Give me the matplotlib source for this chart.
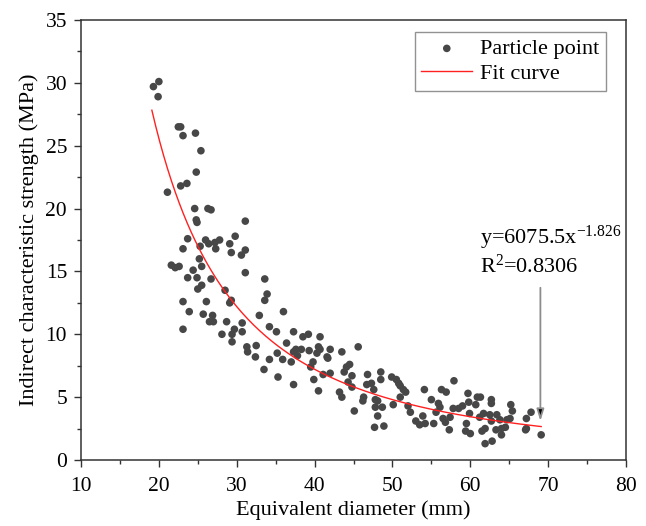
import numpy as np
import matplotlib
matplotlib.use("Agg")
import matplotlib.pyplot as plt

plt.rcParams['font.family'] = ['Liberation Serif', 'DejaVu Serif']
plt.rcParams['mathtext.fontset'] = 'custom'
plt.rcParams['mathtext.rm'] = 'Liberation Serif'
plt.rcParams['mathtext.it'] = 'Liberation Serif'

# particle points: equivalent diameter (mm), strength (MPa)
diam = [19.3, 20.0, 19.9, 22.5, 22.8, 23.1, 24.7, 25.4, 24.8, 22.8, 23.6, 21.1,
        24.6, 26.3, 26.7, 24.8, 24.9, 31.1, 29.8, 23.7, 23.1, 26.0, 26.4, 27.2,
        27.8, 27.3, 29.1, 29.3, 30.6, 31.1, 25.3, 25.2, 21.6, 22.1, 22.6, 24.4,
        25.5, 23.7, 24.9, 26.7, 25.5, 25.0, 31.1, 28.5, 23.1, 26.1, 29.1, 29.3,
        23.9, 25.7, 26.9, 26.5, 27.0, 28.7, 30.7, 32.9, 23.1, 28.1, 29.4, 29.7,
        30.7, 29.4, 31.3, 31.4, 32.4, 32.5, 33.6, 33.9, 33.6, 36.0, 34.2, 35.1,
        37.3, 34.2, 33.5, 35.2, 35.9, 36.4, 35.3, 37.0, 37.3, 37.6, 38.3, 37.8,
        37.3, 38.5, 39.2, 40.7, 39.3, 40.3, 40.5, 40.7, 39.8, 39.5, 39.9, 40.5,
        41.1, 42.0, 41.7, 42.0, 41.6, 43.5, 45.6, 43.2, 43.5, 43.8, 44.1, 44.5,
        44.8, 44.3, 44.8, 45.1, 46.3, 46.2, 46.8, 46.7, 47.3, 47.6, 48.5, 48.5,
        47.8, 48.1, 47.8, 48.7, 48.1, 47.7, 48.9, 50.1, 49.9, 50.5, 50.8, 51.0,
        51.4, 51.7, 51.0, 52.0, 52.3, 53.0, 53.5, 54.2, 55.3, 53.9, 54.1, 55.0,
        56.3, 56.9, 55.9, 56.1, 55.6, 56.5, 56.8, 57.3, 57.4, 57.9, 57.8, 58.5,
        59.0, 59.7, 59.8, 59.9, 59.5, 59.4, 60.0, 60.9, 61.3, 60.7, 61.2, 61.7,
        61.5, 61.9, 62.7, 62.7, 61.9, 62.8, 62.5, 62.7, 63.4, 63.3, 64.0, 63.8,
        64.5, 64.0, 64.7, 65.2, 65.4, 65.1, 67.2, 67.2, 67.1, 67.8, 69.1]
strength = [29.7, 30.1, 28.9, 26.5, 26.5, 25.8, 26.0, 24.6, 22.9, 21.8, 22.0, 21.3,
            20.0, 20.0, 19.9, 19.1, 18.9, 19.0, 17.8, 17.6, 16.8, 17.5, 17.2, 17.3,
            17.5, 16.8, 17.2, 16.5, 16.3, 16.7, 17.0, 16.0, 15.5, 15.3, 15.4, 15.1,
            15.4, 14.5, 14.5, 14.4, 13.9, 13.6, 14.9, 13.5, 12.6, 12.6, 12.5, 12.7,
            11.8, 11.6, 11.5, 11.0, 11.0, 11.0, 10.9, 11.5, 10.4, 10.0, 10.0, 10.4,
            10.2, 9.4, 9.0, 8.6, 8.2, 9.1, 14.4, 13.2, 12.7, 11.8, 10.6, 10.2,
            10.2, 8.0, 7.2, 8.5, 8.0, 9.3, 6.6, 7.8, 8.6, 8.8, 8.8, 8.3,
            6.0, 9.8, 10.0, 9.8, 8.7, 8.5, 9.0, 8.8, 7.8, 7.4, 6.4, 5.5,
            6.8, 6.9, 8.1, 8.8, 8.2, 8.6, 9.0, 5.4, 5.0, 7.0, 7.4, 7.6,
            6.7, 6.2, 5.8, 3.9, 5.0, 4.7, 6.8, 6.0, 6.1, 5.6, 7.0, 6.4,
            4.8, 4.7, 4.2, 4.2, 3.5, 2.6, 2.7, 4.4, 6.6, 6.4, 6.1, 5.9,
            5.6, 5.4, 5.0, 4.3, 3.8, 3.1, 2.8, 2.9, 2.9, 3.5, 5.6, 4.8,
            5.6, 5.4, 4.5, 4.2, 3.8, 3.3, 3.0, 2.4, 3.4, 6.3, 4.1, 4.1,
            4.3, 5.3, 4.6, 3.7, 2.9, 2.3, 2.1, 5.0, 5.0, 4.4, 3.4, 3.7,
            2.3, 2.5, 4.8, 4.5, 1.3, 1.5, 3.6, 3.1, 3.6, 2.4, 2.5, 3.2,
            2.6, 2.0, 3.2, 4.4, 3.9, 3.3, 3.3, 2.5, 2.4, 3.8, 2.0]

# fitted power law shown on the chart
fit_a = 6075.5
fit_b = -1.826
fit_x = np.linspace(19.1, 69.1, 200)
fit_y = fit_a * fit_x ** fit_b

fig = plt.figure(figsize=(6.46, 5.26), dpi=100)
ax = fig.add_axes([0.1254, 0.1255, 0.8437, 0.8365])

ax.scatter(diam, strength, s=30, color='#474747', edgecolors='none',
           label='Particle point', zorder=3)
ax.plot(fit_x, fit_y, color='#ff2020', lw=1.0, label='Fit curve', zorder=4)

ax.annotate('', xy=(69.0, 3.1), xytext=(69.0, 13.7),
            arrowprops=dict(arrowstyle='-|>,head_length=0.7,head_width=0.22',
                            ec='#8c8c8c', fc='black', lw=1.3, shrinkA=0, shrinkB=0))
ax.text(61.2, 17.7, 'y=6075.5x$^{\\mathrm{-1.826}}$', fontsize=16, va='center', ha='left')
ax.text(61.2, 15.4, 'R$^{\\mathrm{2}}$=0.8306', fontsize=16, va='center', ha='left')

ax.set_xlim(10, 80)
ax.set_ylim(0, 35)
ax.set_xticks(np.arange(10, 81, 10))
ax.set_xticks(np.arange(15, 80, 10), minor=True)
ax.set_yticks(np.arange(0, 36, 5))
ax.set_yticks(np.arange(2.5, 35, 5), minor=True)
ax.tick_params(which='major', direction='out', length=5, width=1, labelsize=15.5,
               color='#333333', top=False, right=False)
ax.tick_params(axis='x', which='major', pad=7)
ax.tick_params(axis='y', which='major', pad=5)
ax.tick_params(which='minor', direction='out', length=3, width=1,
               color='#333333', top=False, right=False)
for sp in ax.spines.values():
    sp.set_color('#333333')
    sp.set_linewidth(1.1)

ax.set_xlabel('Equivalent diameter (mm)', fontsize=16, labelpad=3)
ax.set_ylabel('Indirect characteristic strength (MPa)', fontsize=16, labelpad=5)

leg = ax.legend(loc='upper right', bbox_to_anchor=(0.9633, 0.9727), fontsize=16,
                frameon=True, fancybox=False, borderaxespad=0, borderpad=0.3,
                handlelength=2.3, handletextpad=0.35, labelspacing=0.2,
                scatterpoints=1)
leg.get_frame().set_edgecolor('#777777')
leg.get_frame().set_linewidth(1.0)

fig.savefig('out.png', dpi=100)
